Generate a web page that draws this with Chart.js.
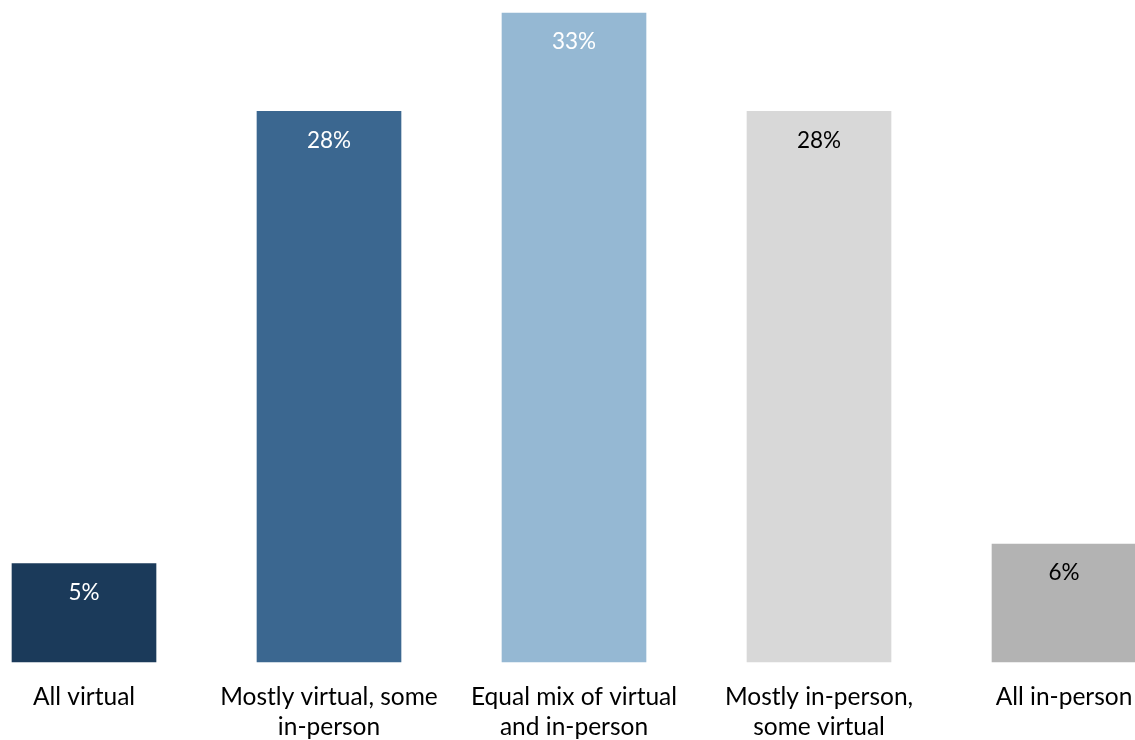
<!DOCTYPE html>
<html>
<head>
<meta charset="utf-8">
<script src="https://cdn.jsdelivr.net/npm/chart.js@4"></script>
<style>
  html, body { margin: 0; padding: 0; background: #fff; }
  #wrap { width: 1135px; height: 740px; }
</style>
</head>
<body>
<div id="wrap"><canvas id="barChart"></canvas></div>
<script>
const categories = [
  ["All virtual"],
  ["Mostly virtual, some", "in-person"],
  ["Equal mix of virtual", "and in-person"],
  ["Mostly in-person,", "some virtual"],
  ["All in-person"]
];
const shares = [5, 28, 33, 28, 6];
const barColors = ["#1B3A5A", "#3B6790", "#95B8D3", "#D8D8D8", "#B3B3B3"];
const labelColors = ["#fff", "#fff", "#fff", "#000", "#000"];

// labels inside the top of each bar
const valueLabels = {
  id: 'valueLabels',
  afterDatasetsDraw(chart) {
    const ctx = chart.ctx;
    const meta = chart.getDatasetMeta(0);
    ctx.save();
    ctx.font = '22.5px Lato';
    ctx.textAlign = 'center';
    ctx.textBaseline = 'middle';
    meta.data.forEach((bar, i) => {
      ctx.fillStyle = labelColors[i];
      ctx.fillText(shares[i] + '%', bar.x, bar.y + 29);
    });
    ctx.restore();
  }
};

const ctx = document.getElementById('barChart').getContext('2d');
new Chart(ctx, {
  type: 'bar',
  data: {
    labels: categories,
    datasets: [{
      data: shares,
      backgroundColor: barColors,
      barThickness: 144,
      clip: false
    }]
  },
  options: {
    responsive: true,
    maintainAspectRatio: false,
    animation: false,
    layout: { padding: { left: 84, right: 71, top: 13, bottom: 0 } },
    plugins: {
      legend: { display: false },
      tooltip: { enabled: false }
    },
    scales: {
      x: {
        offset: false,
        grid: { display: false, drawTicks: false },
        border: { display: false },
        ticks: {
          color: '#000',
          font: { family: 'Lato', size: 24.5, lineHeight: 1.224 },
          padding: 20,
          maxRotation: 0,
          autoSkip: false
        },
        afterFit(scale) {
          // keep the bar area fixed, labels may overhang
          scale.height = 78;
          scale.paddingLeft = 0;
          scale.paddingRight = 0;
        }
      },
      y: {
        display: false,
        min: 0,
        max: 33
      }
    }
  },
  plugins: [valueLabels]
});
</script>
</body>
</html>
